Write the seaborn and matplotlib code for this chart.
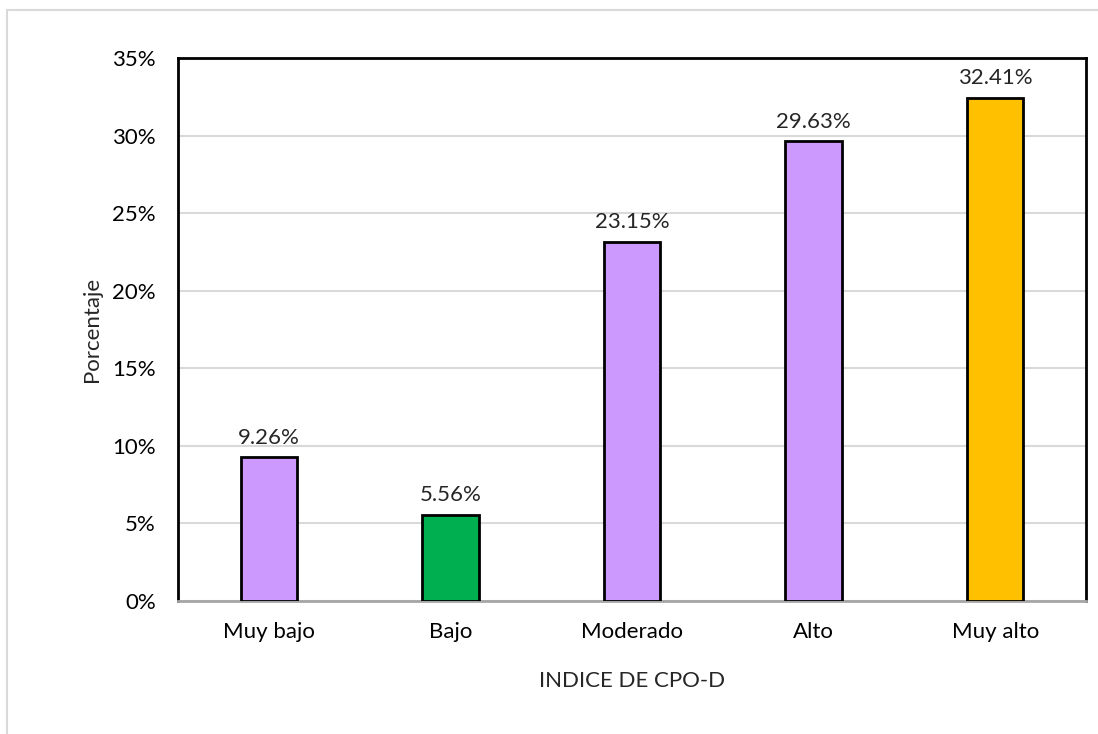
import matplotlib
matplotlib.use("Agg")
import matplotlib.pyplot as plt
import seaborn as sns
import pandas as pd
from matplotlib.lines import Line2D
from matplotlib.ticker import PercentFormatter

# datos
categorias = ["Muy bajo", "Bajo", "Moderado", "Alto", "Muy alto"]
porcentajes = [9.26, 5.56, 23.15, 29.63, 32.41]
colores = ["#CC99FF", "#00B050", "#CC99FF", "#CC99FF", "#FFC000"]

df = pd.DataFrame({"indice": categorias, "pct": porcentajes})

sns.set_theme(style="white")
plt.rcParams["font.family"] = ["Lato", "DejaVu Sans"]

fig = plt.figure(figsize=(10.98, 7.34), dpi=100)
ax = fig.add_axes([178 / 1098, 1 - 601 / 734, (1086 - 178) / 1098, (601 - 58) / 734])

sns.barplot(data=df, x="indice", y="pct", hue="indice", palette=colores, saturation=1,
            legend=False, width=0.31, edgecolor="black", linewidth=2, ax=ax, zorder=3)

ax.set_ylim(0, 35)
ax.set_yticks(range(0, 36, 5))
ax.yaxis.set_major_formatter(PercentFormatter(decimals=0))
ax.grid(axis="y", color="#D9D9D9", linewidth=1.5, zorder=0)
ax.set_axisbelow(True)

for s in ["left", "top", "right"]:
    ax.spines[s].set_color("black")
    ax.spines[s].set_linewidth(2)
ax.spines["bottom"].set_color("#A6A6A6")
ax.spines["bottom"].set_linewidth(2)

ax.tick_params(axis="both", labelsize=16, colors="black", length=0)
ax.tick_params(axis="y", pad=16)
ax.tick_params(axis="x", pad=15)

for i, v in enumerate(porcentajes):
    ax.annotate(f"{v:.2f}%", (i, v), xytext=(0, 7), textcoords="offset points",
                ha="center", va="bottom", fontsize=16)

ax.set_ylabel("Porcentaje", fontsize=16, labelpad=7)
ax.set_xlabel("INDICE DE CPO-D", fontsize=16, labelpad=21)

# borde gris claro del área del gráfico
fig.add_artist(Line2D([7 / 1098, 7 / 1098], [0, 1 - 10 / 734], color="#D9D9D9", lw=1.5))
fig.add_artist(Line2D([7 / 1098, 1], [1 - 10 / 734, 1 - 10 / 734], color="#D9D9D9", lw=1.5))

fig.savefig("out.png", dpi=100)
